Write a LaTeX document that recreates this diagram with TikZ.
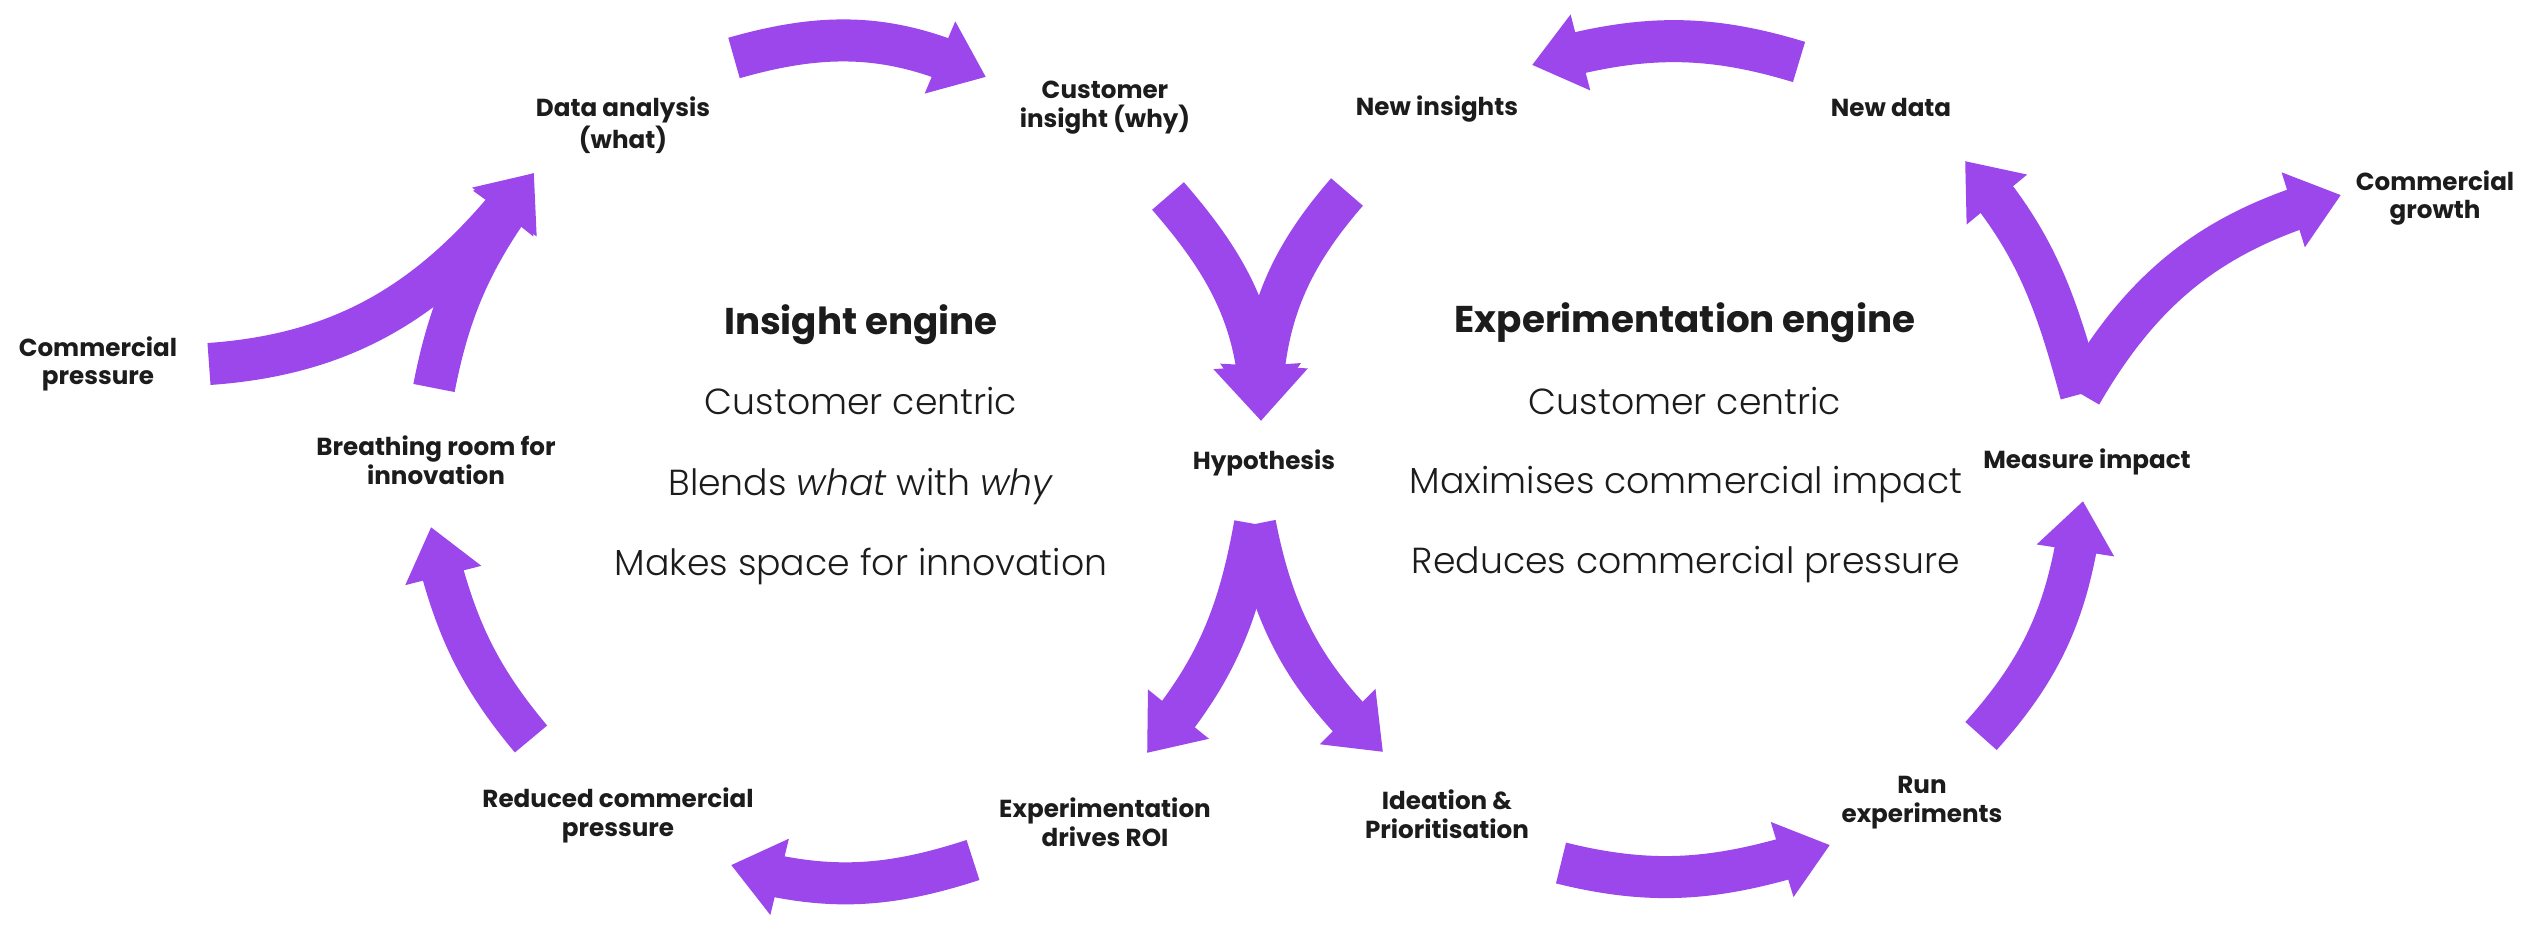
\documentclass[tikz,border=0pt]{standalone}
\usepackage{fontspec}
\setmainfont{Poppins}
\newfontfamily\lightfont{Poppins Light}[ItalicFont={Poppins Light Italic}]
\usetikzlibrary{arrows.meta,bending}
\definecolor{arrowviolet}{RGB}{155,71,235}
\definecolor{inkblack}{RGB}{28,28,28}

\begin{document}
\begin{tikzpicture}[
        x=0.01cm, y=0.01cm,
        flow/.style={
            line width=0.42cm,
            draw=arrowviolet,
            -{Triangle[width=0.75cm,length=0.5cm]}
        },
        bigflow/.style={
            flow,
            -{Triangle[width=0.84cm,length=0.55cm]}
        },
        stage/.style={
            font=\bfseries\fontsize{7}{8.2}\selectfont,
            text=inkblack,
            align=center,
            inner sep=0pt
        },
        engine/.style={
            font=\bfseries\fontsize{10.6}{12}\selectfont,
            text=inkblack,
            anchor=base,
            inner sep=0pt
        },
        point/.style={
            font=\lightfont\fontsize{10.3}{12}\selectfont,
            text=inkblack,
            anchor=base,
            inner sep=0pt
        }
    ]

    \fill[white] (0,0) rectangle (2524,927);
    \useasboundingbox (0,0) rectangle (2524,927);

    % stage labels
    \node[stage] (data)      at (623,802)  {Data analysis\\(what)};
    \node[stage] (insight)   at (1105,819) {Customer\\insight (why)};
    \node[stage] (newins)    at (1437,818) {New insights};
    \node[stage] (newdata)   at (1891,819) {New data};
    \node[stage] (growth)    at (2435,729) {Commercial\\growth};
    \node[stage] (pressure)  at (98,563)   {Commercial\\pressure};
    \node[stage] (breathing) at (436,467)  {Breathing room for\\innovation};
    \node[stage] (hypo)      at (1264,464) {Hypothesis};
    \node[stage] (impact)    at (2087,465) {Measure impact};
    \node[stage] (reduced)   at (618,112)  {Reduced commercial\\pressure};
    \node[stage] (roi)       at (1105,105) {Experimentation\\drives ROI};
    \node[stage] (idea)      at (1447,113) {Ideation \&\\Prioritisation};
    \node[stage] (run)       at (1922,124) {Run\\experiments};

    % engine texts
    \node[engine] (insightEngine) at (861,592) {Insight engine};
    \node[point]  (insightA)      at (861,512) {Customer centric};
    \node[point]  (insightB)      at (861,431) {Blends \textit{what} with \textit{why}};
    \node[point]  (insightC)      at (861,351) {Makes space for innovation};
    \node[engine] (expEngine)     at (1685,594) {Experimentation engine};
    \node[point]  (expA)          at (1685,512) {Customer centric};
    \node[point]  (expB)          at (1686,433) {Maximises commercial impact};
    \node[point]  (expC)          at (1686,353) {Reduces commercial pressure};

    % arrow ends
    \coordinate (dataTail)     at (734,869);
    \coordinate (insightTip)   at (986,850);
    \coordinate (insightTail)  at (1168,731);
    \coordinate (hypoTip)      at (1261,506);
    \coordinate (newinsTail)   at (1347,735);
    \coordinate (newinsTip)    at (1532,862);
    \coordinate (newdataTail)  at (1799,865);
    \coordinate (newdataTip)   at (1965,766);
    \coordinate (impactTail)   at (2081,533);
    \coordinate (impactTip)    at (2083,426);
    \coordinate (growthTip)    at (2341,732);
    \coordinate (runTail)      at (1981,191);
    \coordinate (runTip)       at (1830,82);
    \coordinate (ideaTail)     at (1561,64);
    \coordinate (ideaTip)      at (1383,175);
    \coordinate (hypoTail)     at (1255,403);
    \coordinate (roiTip)       at (1147,174);
    \coordinate (roiTail)      at (973,67);
    \coordinate (reducedTip)   at (731,62);
    \coordinate (reducedTail)  at (531,188);
    \coordinate (breathTip)    at (431,400);
    \coordinate (breathTail)   at (434,539);
    \coordinate (pressureTail) at (209,563);
    \coordinate (dataTip)      at (534,754);

    % insight loop
    \draw[flow] (dataTail) to[out=16,in=154] (insightTip);
    \draw[bigflow] (insightTail) to[out=311,in=90] (hypoTip);
    \draw[flow] (hypoTail) to[out=260,in=49] (roiTip);
    \draw[flow] (roiTail) to[out=198,in=344] (reducedTip);
    \draw[flow] (reducedTail) to[out=130,in=283] (breathTip);
    \draw[flow] (breathTail) to[out=79,in=233] (dataTip);
    \draw[flow] (pressureTail) to[out=4,in=233] (dataTip);

    % experimentation loop
    \draw[flow] (hypoTail) to[out=281,in=137] (ideaTip);
    \draw[flow] (ideaTail) to[out=-14,in=198] (runTip);
    \draw[flow] (runTail) to[out=48,in=263] (impactTip);
    \draw[flow] (impactTail) to[out=105,in=312] (newdataTip);
    \draw[flow] (impactTail) to[out=60,in=195] (growthTip);
    \draw[flow] (newdataTail) to[out=163,in=16] (newinsTip);
    \draw[bigflow] (newinsTail) to[out=229,in=90] (hypoTip);

\end{tikzpicture}
\end{document}
